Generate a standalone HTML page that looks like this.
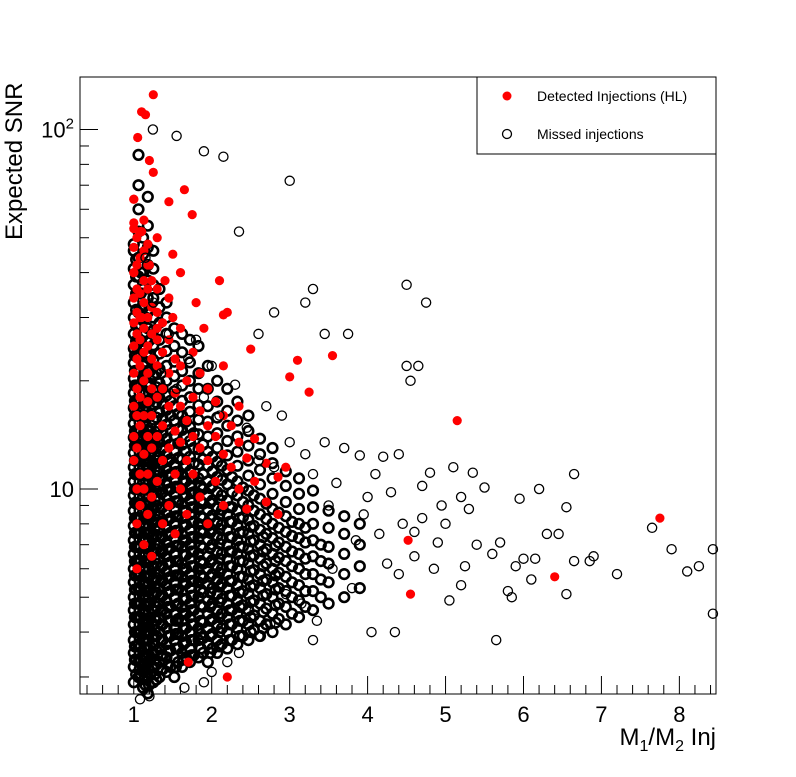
<!DOCTYPE html>
<html><head><meta charset="utf-8"><style>
html,body{margin:0;padding:0;background:#fff}
svg text{font-family:"Liberation Sans",sans-serif}
</style></head><body>
<svg id="chart" width="796" height="772" xmlns="http://www.w3.org/2000/svg">
<rect width="796" height="772" fill="#fff"/>
<g id="marks"></g>
<rect x="80" y="77" width="636" height="617" fill="none" stroke="#000" stroke-width="1"/>
<g id="axes"></g>
<text transform="translate(22,240) rotate(-90)" font-size="24" text-anchor="start">Expected SNR</text>
<text x="716" y="745" font-size="24" text-anchor="end">M<tspan font-size="16" dy="6">1</tspan><tspan dy="-6">/M</tspan><tspan font-size="16" dy="6">2</tspan><tspan dy="-6"> Inj</tspan></text>
<g>
<rect x="477" y="77" width="239" height="77" fill="#fff" stroke="#000"/>
<circle cx="507" cy="96" r="4.5" fill="#f00"/>
<text x="537" y="101" font-size="14">Detected Injections (HL)</text>
<circle cx="507" cy="134" r="4.5" fill="none" stroke="#000" stroke-width="1.3"/>
<text x="537" y="139" font-size="14">Missed injections</text>
</g>
</svg>
<script>
const xTicks = [1,2,3,4,5,6,7,8];
const yMajor = [10,100];
const yMajorLabels = ["10","10²"];
const missedCols = [
[1.00,[2.9,3.2,3.5,3.8,4.2,4.6,5.0,5.5,6.0,6.6,7.2,7.9,8.7,9.6,10.5,11.5,12.6,13.9,15.2,16.8,18.5,20.3,22.4,24.6,27,30,33,37,41,46,48]],
[1.06,[3.0,3.3,3.7,4.0,4.4,4.8,5.3,5.8,6.3,6.9,7.6,8.3,9.1,10,11,12.1,13.3,14.6,16,17.6,19.4,21.3,23.4,25.8,28.4,31,35,39,44,52,60,70,85]],
[1.12,[2.8,3.1,3.4,3.8,4.1,4.5,5.0,5.4,6.0,6.5,7.2,7.9,8.6,9.5,10.4,11.4,12.5,13.8,15.1,16.6,18.3,20.1,22,24.3,26.7,29.4,32,36,40,45,50]],
[1.18,[2.7,3.0,3.3,3.6,4.0,4.3,4.8,5.2,5.7,6.3,6.9,7.5,8.3,9.1,10,11,12,13.2,14.5,16,17.5,19.3,21.2,23.3,25.6,28,31,34,38,42,47,54,65]],
[1.25,[2.9,3.2,3.5,3.9,4.2,4.6,5.1,5.6,6.1,6.7,7.4,8.1,8.9,9.8,10.7,11.8,13,14.2,15.6,17.2,18.9,20.8,22.9,25.1,27.6,30,34,37,41,46]],
[1.33,[3.0,3.3,3.6,4.0,4.4,4.8,5.3,5.8,6.4,7.0,7.7,8.4,9.3,10.2,11.2,12.3,13.5,14.8,16.3,17.9,19.7,21.6,23.8,26,29,32,36]],
[1.42,[3.1,3.4,3.7,4.1,4.5,4.9,5.4,5.9,6.5,7.1,7.8,8.6,9.5,10.4,11.4,12.5,13.8,15.1,16.6,18.2,20,22,24.2,27,30,33]],
[1.52,[3.0,3.4,3.8,4.1,4.5,5.0,5.5,6.0,6.6,7.3,8.0,8.8,9.7,10.6,11.7,12.8,14.1,15.5,17,18.7,20.6,22.6,25,28]],
[1.62,[3.2,3.5,3.9,4.3,4.7,5.2,5.7,6.2,6.9,7.5,8.3,9.1,10,11,12.1,13.3,14.6,16,17.6,19.4,21.3,24,27]],
[1.72,[3.3,3.6,4.0,4.4,4.8,5.3,5.8,6.4,7.0,7.7,8.5,9.3,10.2,11.2,12.3,13.6,14.9,16.4,18,20,22.5,26]],
[1.83,[3.4,3.8,4.1,4.5,5.0,5.5,6.0,6.6,7.3,8.0,8.8,9.7,10.7,11.7,12.9,14.2,15.6,17.1,19,21,25]],
[1.95,[3.3,3.7,4.1,4.5,4.9,5.4,6.0,6.5,7.2,7.9,8.7,9.6,10.5,11.6,12.7,14,15.4,17,19,22]],
[2.07,[3.5,3.8,4.2,4.6,5.1,5.6,6.1,6.7,7.4,8.1,8.9,9.8,10.8,11.9,13,14.3,15.8,17.5,20]],
[2.20,[3.6,4.0,4.4,4.8,5.3,5.8,6.4,7.0,7.7,8.5,9.3,10.3,11.3,12.4,13.6,15,16.5,19]],
[2.33,[3.7,4.1,4.5,4.9,5.4,6.0,6.6,7.2,7.9,8.7,9.6,10.5,11.6,12.7,14,15.5,17.5]],
[2.47,[3.8,4.2,4.6,5.1,5.6,6.2,6.8,7.5,8.2,9.0,9.9,10.9,12,13.2,14.5,16]],
[2.62,[3.9,4.3,4.8,5.3,5.8,6.4,7.0,7.7,8.5,9.4,10.3,11.3,12.5,13.8]],
[2.78,[4.0,4.5,5.0,5.5,6.0,6.6,7.3,8.0,8.8,9.7,10.7,11.8,13]],
[2.95,[4.2,4.7,5.2,5.7,6.3,6.9,7.6,8.4,9.2,10.2,11.2]],
[3.12,[4.4,4.9,5.4,6.0,6.6,7.3,8.0,8.8,9.7,10.7]],
[3.30,[4.6,5.2,5.8,6.5,7.2,8.0,8.9,9.9]],
[3.50,[4.8,5.5,6.2,6.9,7.8,8.7]],
[3.70,[5.0,5.8,6.6,7.5,8.4]],
[3.90,[5.3,6.1,7.0,8.0]]
];
const missedCols2 = [
[1.03,[3.05,3.35,3.65,4.0,4.4,4.8,5.25,5.75,6.3,6.9,7.55,8.3,9.1,10,11,12,13.2,14.5,16,17.6,19.4,21.3,23.5,25.8,28.5,31.5,35,39,43.5]],
[1.09,[3.05,3.35,3.65,4.0,4.4,4.8,5.25,5.75,6.3,6.9,7.55,8.3,9.1,10,11,12,13.2,14.5,16,17.6,19.4,21.3,23.5,25.8,28.5,31.5,35,40]],
[1.15,[2.85,3.15,3.45,3.8,4.2,4.6,5.05,5.5,6.05,6.6,7.3,8.0,8.8,9.7,10.6,11.7,12.8,14.1,15.5,17,18.7,20.5,22.6,24.8,27.3,30]],
[1.21,[3.05,3.35,3.65,4.0,4.4,4.8,5.25,5.75,6.3,6.9,7.55,8.3,9.1,10,11,12,13.2,14.5,16,17.6,19.4,21.3,23.5,26]],
[1.29,[2.95,3.25,3.55,3.9,4.3,4.7,5.15,5.65,6.2,6.8,7.45,8.2,9,9.9,10.9,12,13.1,14.4,15.8,17.4,19.2,21]],
[1.37,[3.15,3.45,3.8,4.2,4.6,5.05,5.55,6.1,6.7,7.35,8.1,8.9,9.8,10.8,11.8,13,14.3,15.7,17.3,19]],
[1.47,[3.2,3.55,3.9,4.3,4.7,5.2,5.7,6.25,6.85,7.55,8.3,9.1,10,11,12.1,13.3,14.6,16,17.6]],
[1.57,[3.3,3.6,3.95,4.35,4.8,5.25,5.75,6.3,6.95,7.65,8.4,9.2,10.1,11.1,12.2,13.4,14.7,16.2]],
[1.67,[3.4,3.75,4.1,4.5,4.95,5.45,6.0,6.55,7.2,7.95,8.7,9.6,10.5,11.6,12.7,14,15.4]],
[1.77,[3.45,3.8,4.2,4.6,5.05,5.55,6.1,6.7,7.35,8.1,8.9,9.8,10.8,11.8,13,14.3]],
[1.89,[3.5,3.85,4.25,4.7,5.15,5.65,6.2,6.85,7.55,8.3,9.1,10,11,12.1,13.3]],
[2.01,[3.6,3.95,4.35,4.8,5.3,5.8,6.35,7.0,7.7,8.45,9.3,10.2,11.2,12.3]],
[2.13,[3.7,4.1,4.5,4.95,5.45,6.0,6.6,7.25,7.95,8.75,9.6,10.6,11.6]],
[2.26,[3.8,4.2,4.6,5.05,5.55,6.1,6.7,7.35,8.1,8.9,9.8,10.8]],
[2.40,[3.9,4.3,4.75,5.2,5.7,6.3,6.9,7.6,8.35,9.2,10.1]],
[2.54,[4.05,4.45,4.9,5.4,5.95,6.55,7.2,7.9,8.7,9.6]],
[2.70,[4.2,4.65,5.1,5.6,6.2,6.8,7.5,8.25,9.1]],
[2.86,[4.35,4.8,5.3,5.85,6.45,7.1,7.8,8.6]],
[3.03,[4.5,5.0,5.5,6.1,6.7,7.4,8.1]],
[3.20,[4.7,5.2,5.8,6.4,7.1,7.8]],
[3.40,[5.0,5.6,6.3,7.0]]
];
const missedCols3 = [
[1.015,[3.35,3.65,4.0,4.4,4.8,5.25,5.75,6.3,6.9,7.55,8.3,9.15,10,11,12,13.2,14.5,16,17.6,19.4,21.3,23.5]],
[1.075,[3.15,3.5,3.85,4.2,4.6,5.05,5.55,6.05,6.6,7.25,7.95,8.7,9.55,10.5,11.5,12.7,13.9,15.3,16.8,18.5]],
[1.135,[2.95,3.25,3.6,3.95,4.3,4.75,5.2,5.7,6.25,6.85,7.55,8.25,9.05,9.95,10.9,11.95,13.1,14.4,15.8,17.4]],
[1.195,[2.85,3.15,3.45,3.8,4.15,4.55,5.0,5.45,6.0,6.6,7.2,7.9,8.7,9.55,10.5,11.5,12.6,13.8]],
[1.27,[3.05,3.35,3.7,4.05,4.4,4.85,5.35,5.85,6.4,7.05,7.75,8.5,9.35,10.25,11.25,12.4,13.6]],
[1.35,[3.15,3.45,3.8,4.2,4.6,5.05,5.55,6.1,6.7,7.35,8.05,8.85,9.75,10.7,11.75,12.9]],
[1.44,[3.25,3.55,3.9,4.3,4.7,5.15,5.65,6.2,6.8,7.45,8.2,9.05,9.95,10.9,11.95]],
[1.54,[3.2,3.6,3.95,4.3,4.75,5.25,5.75,6.3,6.95,7.65,8.4,9.25,10.15,11.15]],
[1.64,[3.35,3.7,4.1,4.5,4.95,5.45,5.95,6.55,7.2,7.9,8.7,9.55,10.5,11.55]],
[1.74,[3.45,3.8,4.2,4.6,5.05,5.55,6.1,6.7,7.35,8.1,8.9,9.75,10.7]],
[1.86,[3.6,3.95,4.3,4.75,5.25,5.75,6.3,6.95,7.65,8.4,9.25,10.2]],
[1.98,[3.5,3.9,4.3,4.7,5.15,5.7,6.25,6.85,7.55,8.3,9.15,10.05]],
[2.10,[3.65,4.0,4.4,4.85,5.35,5.85,6.4,7.05,7.75,8.5,9.35]],
[2.23,[3.8,4.2,4.6,5.05,5.55,6.1,6.7,7.35,8.1,8.9]],
[2.36,[3.9,4.3,4.7,5.15,5.7,6.3,6.9,7.55,8.3]],
[2.50,[4.0,4.4,4.85,5.35,5.9,6.5,7.15,7.85]],
[2.66,[4.1,4.55,5.05,5.55,6.1,6.7,7.35]],
[2.82,[4.25,4.75,5.25,5.75,6.3,6.95]]
];
const detCols = [
[1.00,[12,14,17,21,25,29,34,40,47,55,64]],
[1.04,[6,8,10,13,16,19,23,27,31,36,42,50]],
[1.08,[9,11,15,18,22,26,30,35,44,52]],
[1.13,[7,10,12.5,16,20,24,28,33,38,46,56]],
[1.18,[8.5,11,14,17.5,21,25,30,36,42,48]],
[1.23,[6.5,9.5,13,16,19,23,27,32,38]],
[1.30,[10.5,14,18,22,26,31,36]],
[1.37,[8,12,15,19,24,29]],
[1.45,[9,13,17,21,26,34]],
[1.53,[7.5,11,14.5,18.5,23]],
[1.60,[10,13.5,17,22,28]],
[1.68,[8.5,12,15.5,20]],
[1.76,[11,14,18,24]],
[1.85,[9.5,13,16.5,21]],
[1.95,[8,12,15,19]],
[2.05,[10.5,14,17.5]],
[2.15,[9,12.5,16,22]],
[2.25,[11.5,15]],
[2.35,[10,13.5,17]],
[2.45,[8.8,12.2]],
[2.55,[10.5,13.8]],
[2.70,[9.2,11.8]],
[2.85,[8.5,10.8]]
];
const detExtra = [[7.75,8.3],[6.4,5.7],[5.15,15.5],[4.52,7.2],[4.55,5.1],[3.55,23.5],[3.0,20.5],[3.1,22.8],[3.25,18.6],[2.95,11.5],[2.5,24.5],[2.15,30.5],[2.1,38],[2.2,31],[2.2,3.0],[1.7,3.3],[1.25,125],[1.1,112],[1.15,110],[1.05,95],[1.2,82],[1.25,76],[1.65,68],[1.45,63],[1.0,64],[1.75,58],[1.0,53],[1.1,52],[1.3,50],[1.5,45],[1.6,40],[1.2,42],[1.4,38],[1.0,40],[1.8,33],[1.5,30],[1.9,28],[1.3,28],[1.1,30]];
const missedExtra = [[1.245,100],[1.55,96],[1.9,87],[2.15,84],[3.0,72],[2.35,52],[3.3,36],[4.5,37],[4.75,33],[3.45,27],[4.65,22],[4.5,22],[4.55,20],[2.6,27],[2.8,31],[3.2,33],[3.75,27],
[7.65,7.8],[7.9,6.8],[8.1,5.9],[8.25,6.1],[8.43,6.8],[8.43,4.5],[7.2,5.8],[6.9,6.5],[6.85,6.3],[6.65,6.3],[6.65,11],[6.55,8.9],[6.2,10],[6.45,7.5],[6.0,6.4],[5.9,6.1],[5.65,3.8],[5.8,5.2],[5.85,5.0],[6.15,6.4],[6.3,7.5],[5.95,9.4],[5.5,10.1],[5.35,11.1],[5.1,11.5],[4.95,9.0],[4.8,11.1],[4.7,8.3],[4.6,7.6],[4.45,8.0],[5.05,4.9],[5.2,5.4],[5.4,7.0],[5.6,6.6],[5.25,6.1],[4.4,5.8],[4.25,6.2],[4.05,4.0],[4.35,4.0],[4.1,11.0],[3.9,12.4],[3.7,13.0],[4.2,12.3],[4.4,12.5],[3.6,10.4],[3.5,9.0],[3.95,8.5],[4.15,7.5],[3.3,11.0],[3.2,12.5],[3.0,13.5],[2.9,16],[2.7,17],[3.45,13.5],[3.55,6.0],[3.8,5.3],[3.35,4.3],[3.15,4.8],[2.95,5.1],[2.75,4.2],[2.55,4.6],[2.35,3.5],[2.6,3.9],[3.3,3.8],[4.9,7.1],[5.0,8.0],[5.3,8.8],[5.7,7.1],[6.1,5.6],[6.55,5.1],[4.0,9.5],[4.3,9.8],[4.7,10.2],[5.2,9.5],[4.6,6.5],[4.85,6.0],[3.85,7.2],[1.65,2.8],[1.9,2.9],[1.08,2.6],[1.2,2.65],[2.0,3.1],[2.2,3.3],
[1.35,21],[1.55,19],[1.7,23],[1.9,18],[2.1,16],[2.3,19.5],[2.45,14.8],[1.25,33],[1.45,27],[1.15,44],[1.8,26],[2.0,22],[2.6,12],[2.8,11.5]];

const NS="http://www.w3.org/2000/svg";
const X0=80,X1=716,Y0=77,Y1=694;
const xMin=0.31,xMax=8.47,lyMin=Math.log10(2.69),lyMax=Math.log10(140);
function sx(v){return X0+(v-xMin)/(xMax-xMin)*(X1-X0);}
function sy(v){return Y1-(Math.log10(v)-lyMin)/(lyMax-lyMin)*(Y1-Y0);}
const marks=document.getElementById('marks');
const axes=document.getElementById('axes');
function dot(x,y,red,sw,r){
  const c=document.createElementNS(NS,'circle');
  c.setAttribute('cx',sx(x).toFixed(1));c.setAttribute('cy',sy(y).toFixed(1));c.setAttribute('r',r||'4.6');
  if(red){c.setAttribute('fill','#f00');}else{c.setAttribute('fill','none');c.setAttribute('stroke','#000');c.setAttribute('stroke-width',sw);}
  
  
  marks.appendChild(c);
}
missedCols.forEach(([x,ys])=>ys.forEach(y=>dot(x,y,false,'2.6','4.8')));
missedCols2.forEach(([x,ys])=>ys.forEach(y=>dot(x,y,false,'2.6','4.8')));
missedCols3.forEach(([x,ys])=>ys.forEach(y=>dot(x,y,false,'2.6','4.8')));
detCols.forEach(([x,ys])=>ys.forEach(y=>dot(x,y,true)));
detExtra.forEach(([x,y])=>dot(x,y,true));
missedExtra.forEach(([x,y])=>dot(x,y,false,'1.3'));
function line(x1,y1,x2,y2,name){
  const l=document.createElementNS(NS,'line');
  l.setAttribute('x1',x1);l.setAttribute('y1',y1);l.setAttribute('x2',x2);l.setAttribute('y2',y2);
  l.setAttribute('stroke','#000');l.setAttribute('stroke-width','1');
  
  
  axes.appendChild(l);
}
function txt(x,y,s,anchor,name){
  const t=document.createElementNS(NS,'text');
  t.setAttribute('x',x);t.setAttribute('y',y);t.setAttribute('font-size','22');t.setAttribute('text-anchor',anchor);
  t.textContent=s;
  
  
  axes.appendChild(t);
}
for(let i=2;i<=42;i++){const v=i/5;if(v<xMin||v>xMax)continue;const px=sx(v);const major=(i%5===0);line(px,Y1,px,Y1-(major?18:9),'x-tick');}
xTicks.forEach(v=>txt(sx(v),722,String(v),'middle','x-tick-label'));
[3,4,5,6,7,8,9,20,30,40,50,60,70,80,90].forEach(v=>{const py=sy(v);line(X0,py,X0+9,py,'y-minor-tick');});
yMajor.forEach((v,i)=>{const py=sy(v);line(X0,py,X0+18,py,'y-major-tick');});
txt(74,sy(10)+8,yMajorLabels[0],'end','y-tick-label');
const t2=document.createElementNS(NS,'text');
t2.setAttribute('x',74);t2.setAttribute('y',sy(100)+8);t2.setAttribute('font-size','22');t2.setAttribute('text-anchor','end');
t2.innerHTML='10<tspan font-size="15" dy="-9">2</tspan>';


axes.appendChild(t2);
</script>
</body></html>
